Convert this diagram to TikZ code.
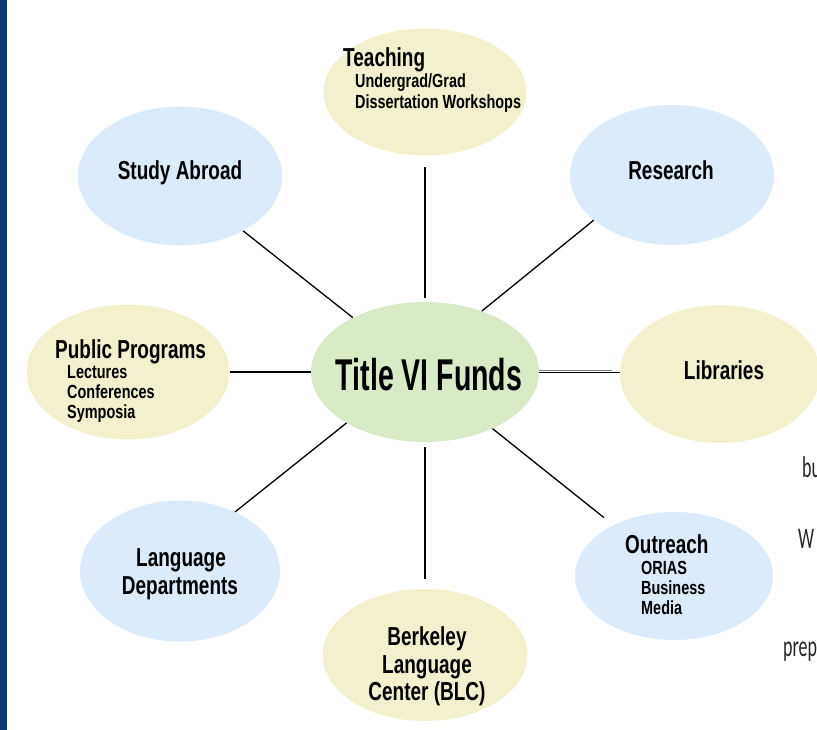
\documentclass[tikz,border=0pt]{standalone}
\usepackage{fontspec}
\setmainfont{Liberation Sans}
\newfontfamily\headfont[FakeStretch=0.73]{Liberation Sans}
\newfontfamily\titlefont[FakeStretch=0.64]{Liberation Sans}
\newfontfamily\itemfont[FakeStretch=0.76]{Liberation Sans}
\newfontfamily\sidefont[FakeStretch=0.6]{Carlito}
\usetikzlibrary{shapes.geometric}

\definecolor{bubyellow}{HTML}{F3F1CD}
\definecolor{bubblue}{HTML}{DCEBFA}
\definecolor{bubgreen}{HTML}{D8EAC6}
\definecolor{navybar}{HTML}{063C6F}
\definecolor{sidegray}{HTML}{262626}

\tikzset{
  bubble/.style={ellipse, inner sep=0pt, draw=none},
  yellowbub/.style={bubble, fill=bubyellow},
  bluebub/.style={bubble, fill=bubblue},
  greenbub/.style={bubble, fill=bubgreen},
  headtext/.style={inner sep=0pt, font=\headfont\bfseries\fontsize{26}{28}\selectfont},
  itemtext/.style={inner sep=0pt, anchor=base west, font=\itemfont\bfseries\fontsize{19}{20}\selectfont},
  sidetext/.style={inner sep=0pt, anchor=base west, text=sidegray, font=\sidefont\fontsize{30}{32}\selectfont},
  link/.style={line width=1.3pt, black},
}

\begin{document}
\begin{tikzpicture}[x=1pt, y=-1pt]
  \useasboundingbox (0,0) rectangle (817,730);
  \clip (0,0) rectangle (817,730);
  \fill[white] (0,0) rectangle (817,730);
  \fill[navybar] (0,0) rectangle (7,730);

  % bubbles
  \node[yellowbub, minimum width=203pt, minimum height=127pt] (teach) at (425,92) {};
  \node[bluebub, minimum width=204pt, minimum height=139pt] (study) at (180,176) {};
  \node[bluebub, minimum width=204pt, minimum height=140pt] (research) at (672,175) {};
  \node[yellowbub, minimum width=203pt, minimum height=135pt] (public) at (128,372) {};
  \node[greenbub, minimum width=228pt, minimum height=140pt] (title) at (425,372) {};
  \node[yellowbub, minimum width=200pt, minimum height=138pt] (lib) at (720,374) {};
  \node[bluebub, minimum width=200pt, minimum height=141pt] (lang) at (180,571) {};
  \node[bluebub, minimum width=198pt, minimum height=128pt] (outreach) at (674,576) {};
  \node[yellowbub, minimum width=205pt, minimum height=132pt] (blc) at (425,655) {};

  % connectors
  \draw[link, shorten <=11pt, shorten >=4pt] (teach.south) -- (title.north);
  \draw[link] (study.-41) -- (title.143);
  \draw[link] (research.210) -- (title.47);
  \draw[link, line width=1.8pt] (public.east) -- (public.east -| title.west);
  \draw[link, line width=1.1pt] ([yshift=-0.5pt]title.east) -- ([yshift=-0.5pt]title.east -| lib.west);
  \draw[gray, line width=1pt, shorten >=8pt] ([yshift=1.5pt]title.east) -- ([yshift=1.5pt]title.east -| lib.west);
  \draw[link] (lang.47) -- (title.213);
  \draw[link, shorten <=12pt] (outreach.140) -- (title.-40);
  \draw[link, shorten <=5pt, shorten >=10pt] (title.south) -- (blc.north);

  % labels
  \node[inner sep=0pt, anchor=base, font=\titlefont\bfseries\fontsize{44.5}{46}\selectfont] (titleT) at (429,390) {Title VI Funds};

  \node[headtext, anchor=base west] (teachH) at (343,67) {Teaching};
  \node[itemtext] (teachA) at (355,88) {Undergrad/Grad};
  \node[itemtext] (teachB) at (355,109) {Dissertation Workshops};

  \node[headtext, anchor=base] (studyT) at (180,180) {Study Abroad};
  \node[headtext, anchor=base] (researchT) at (671,180) {Research};
  \node[headtext, anchor=base] (libT) at (724,379) {Libraries};

  \node[headtext, anchor=base west] (publicH) at (55,358) {Public Programs};
  \node[itemtext] (publicA) at (67,378) {Lectures};
  \node[itemtext] (publicB) at (67,398) {Conferences};
  \node[itemtext] (publicC) at (67,418) {Symposia};

  \node[headtext, anchor=base] (langA) at (181,566) {Language};
  \node[headtext, anchor=base] (langB) at (180,594) {Departments};

  \node[headtext, anchor=base west] (outH) at (625,553) {Outreach};
  \node[itemtext] (outA) at (641,574) {ORIAS};
  \node[itemtext] (outB) at (641,594) {Business};
  \node[itemtext] (outC) at (641,614) {Media};

  \node[headtext, anchor=base] (blcA) at (427,645) {Berkeley};
  \node[headtext, anchor=base] (blcB) at (427,673) {Language};
  \node[headtext, anchor=base] (blcC) at (427,700) {Center (BLC)};

  % text running in from the right edge
  \node[sidetext] (sideA) at (802,477) {bu};
  \node[sidetext] (sideB) at (798,548) {W};
  \node[sidetext] (sideC) at (783,656) {prep};
\end{tikzpicture}
\end{document}
